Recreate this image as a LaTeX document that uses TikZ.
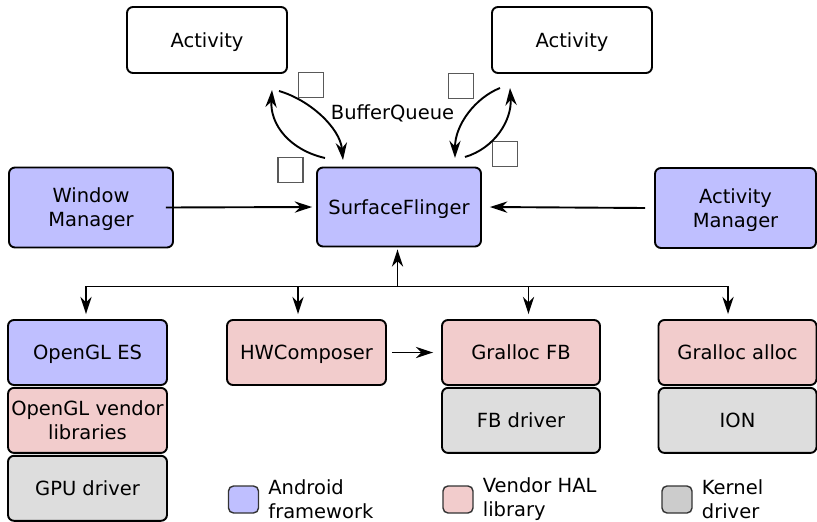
\documentclass[tikz,border=0pt]{standalone}
\usepackage{fontspec}
\setmainfont{DejaVu Sans}
\usepackage{xcolor}
\usetikzlibrary{
    arrows.meta,
    shapes,
    positioning,
    calc
}
\definecolor{fwblue}{HTML}{BFBFFF}
\definecolor{halpink}{HTML}{F2CCCC}
\definecolor{kernelgray}{HTML}{DDDDDD}
\definecolor{keygray}{HTML}{CCCCCC}

\begin{document}
\begin{tikzpicture}[x=1pt, y=-1pt,
                every node/.style={font=\fontsize{19.5pt}{24pt}\selectfont},
                box-node/.style={rectangle, draw=black, line width=1.9pt, rounded corners=6pt,
                    align=center, inner sep=0pt, minimum width=160pt, minimum height=65pt,
                    text depth=-2pt},
                fw-node/.style={box-node, fill=fwblue},
                hal-node/.style={box-node, fill=halpink},
                kernel-node/.style={box-node, fill=kernelgray},
                buf-node/.style={rectangle, draw=gray!70!black, line width=1.3pt, fill=white,
                    minimum size=25pt, inner sep=0pt},
                key-node/.style={rectangle, draw=black!80, line width=1.4pt, rounded corners=5pt,
                    minimum width=30pt, minimum height=27pt, inner sep=0pt},
                key-text/.style={align=left, inner sep=0pt},
                link/.style={-{Stealth[scale length=1.5,scale width=1.3]}, line width=1.9pt}]
                \useasboundingbox (0,0) rectangle (817,522);
                % apps
                \node[box-node, fill=white, minimum height=66pt] (act-left) at (207,40) {Activity};
                \node[box-node, fill=white, minimum height=66pt] (act-right) at (572,40) {Activity};
                % framework
                \node[fw-node, minimum width=164pt, minimum height=80pt] (wm) at (91,207.5) {Window\\Manager};
                \node[fw-node, minimum width=164pt, minimum height=79pt] (sf) at (399,207) {SurfaceFlinger};
                \node[fw-node, minimum width=161pt, minimum height=80pt] (am) at (735.5,208) {Activity\\Manager};
                % bottom row
                \node[fw-node, minimum width=159pt] (gles) at (87.5,352.5) {OpenGL ES};
                \node[hal-node, minimum width=159pt, below=1pt of gles] (gl-vendor) {OpenGL vendor\\libraries};
                \node[kernel-node, minimum width=159pt, below=1pt of gl-vendor] (gpu) {GPU driver};
                \node[hal-node, minimum width=159pt] (hwc) at (306.5,352.5) {HWComposer};
                \node[hal-node, minimum width=158pt] (gralloc-fb) at (521,352.5) {Gralloc FB};
                \node[kernel-node, minimum width=158pt, below=1pt of gralloc-fb] (fb) {FB driver};
                \node[hal-node, minimum width=158pt] (gralloc) at (737.5,352.5) {Gralloc alloc};
                \node[kernel-node, minimum width=158pt, below=1pt of gralloc] (ion) {ION};
                % buffer queue
                \node (bq) at (392.5,113) {BufferQueue};
                \node[buf-node] (buf-a) at (311,85) {};
                \node[buf-node] (buf-b) at (290.5,170) {};
                \node[buf-node] (buf-c) at (461,86) {};
                \node[buf-node] (buf-d) at (505,154) {};
                \coordinate (bq-l1) at (325,158);
                \coordinate (bq-l2) at (272,90);
                \coordinate (bq-l3) at (279,91);
                \coordinate (bq-l4) at (343,160);
                \coordinate (bq-r1) at (500,88);
                \coordinate (bq-r2) at (455,158);
                \coordinate (bq-r3) at (465,157);
                \coordinate (bq-r4) at (510,88);
                \draw [link] (bq-l1) .. controls (290,150) and (270,125) .. (bq-l2);
                \draw [link] (bq-l3) .. controls (310,100) and (340,128) .. (bq-l4);
                \draw [link] (bq-r1) .. controls (475,98) and (455,125) .. (bq-r2);
                \draw [link] (bq-r3) .. controls (495,148) and (512,120) .. (bq-r4);
                % arrows
                \draw [link] ([xshift=-8pt]wm.east) -- ([xshift=-4pt]sf.west);
                \draw [link] ([xshift=-9pt]am.west) -- ([xshift=8pt]sf.east);
                \coordinate (bus) at ($(sf.south)+(-1.5,39)$);
                \draw [link] (bus) -- ([xshift=-1.5pt,yshift=-2pt]sf.south);
                \draw [line width=1.9pt] ([xshift=-1.5pt]gles.north |- bus) -- ([xshift=-9.5pt]gralloc.north |- bus);
                \draw [link] ([xshift=-1.5pt]gles.north |- bus) -- ([xshift=-1.5pt,yshift=5pt]gles.north);
                \draw [link] ([xshift=-8.5pt]hwc.north |- bus) -- ([xshift=-8.5pt,yshift=5pt]hwc.north);
                \draw [link] ([xshift=7.5pt]gralloc-fb.north |- bus) -- ([xshift=7.5pt,yshift=5pt]gralloc-fb.north);
                \draw [link] ([xshift=-9.5pt]gralloc.north |- bus) -- ([xshift=-9.5pt,yshift=5pt]gralloc.north);
                \draw [link] ([xshift=5pt]hwc.east) -- ([xshift=-8pt]gralloc-fb.west);
                % legend
                \node[key-node, fill=fwblue] (key-fw) at (243.5,499.5) {};
                \node[key-text, right=9pt of key-fw] (key-fw-text) {Android\\framework};
                \node[key-node, fill=halpink] (key-hal) at (458,499.5) {};
                \node[key-text, right=9pt of key-hal] (key-hal-text) {Vendor HAL\\library};
                \node[key-node, fill=keygray] (key-kernel) at (677,499.5) {};
                \node[key-text, right=9pt of key-kernel] (key-kernel-text) {Kernel\\driver};
            \end{tikzpicture}
\end{document}
